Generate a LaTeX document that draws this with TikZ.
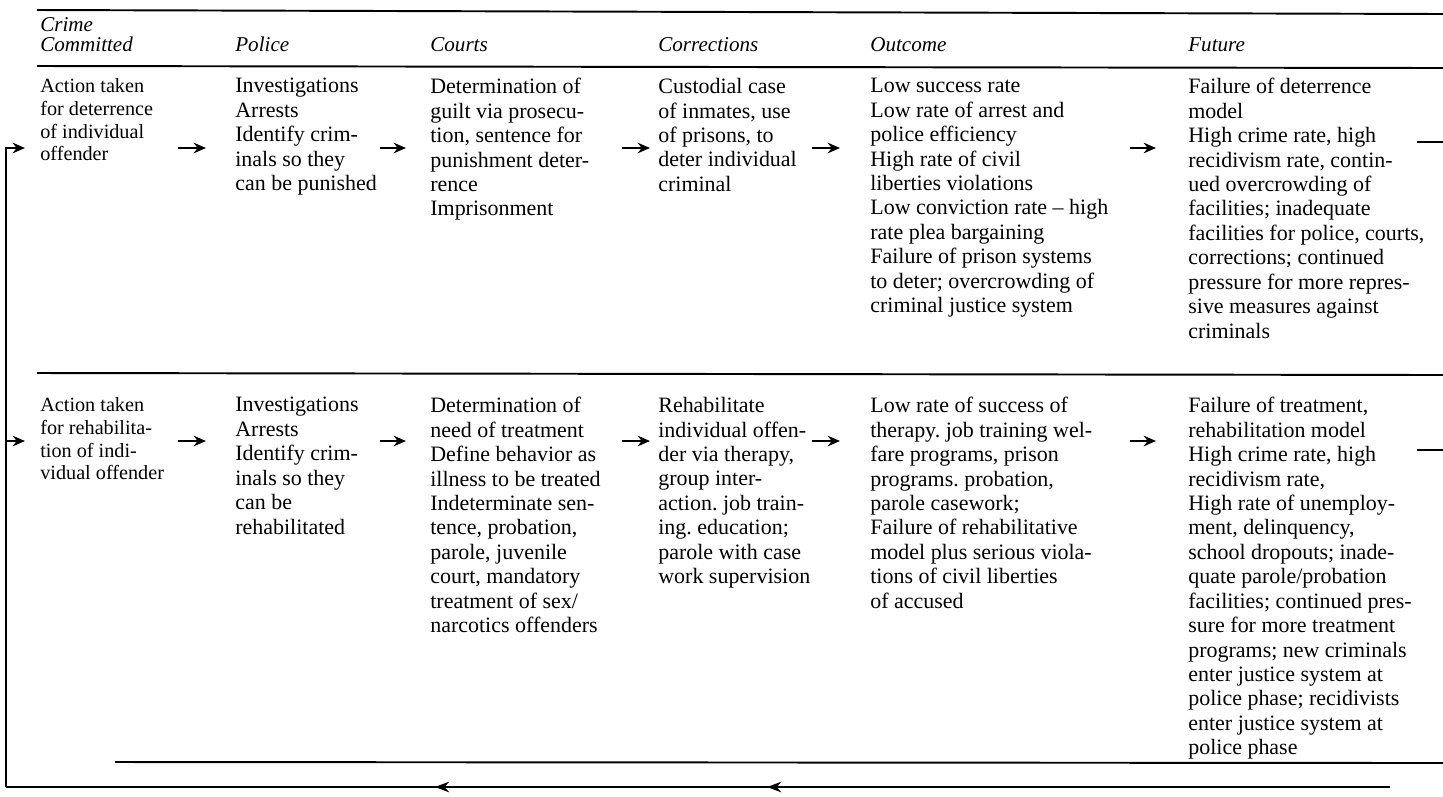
\documentclass[tikz,border=0pt]{standalone}
\usepackage{fontspec}
\setmainfont{Liberation Serif}
\usetikzlibrary{arrows.meta,decorations.markings}
\frenchspacing

\tikzset{
  cell/.style={anchor=north west, align=left, inner sep=0pt,
    font=\fontsize{12.5}{13.9}\selectfont},
  side/.style={cell, font=\fontsize{11.5}{13}\selectfont},
  head/.style={anchor=south west, align=left, inner sep=0pt,
    font=\fontsize{12}{11.5}\selectfont\itshape},
  rule/.style={line width=1.1pt},
  flow/.style={line width=1.5pt, -{Stealth[length=7pt,width=6pt]}},
  back/.style={line width=1.6pt},
}

\begin{document}
\begin{tikzpicture}[x=0.02cm, y=-0.02cm]
		\useasboundingbox (0,0) rectangle (1443,796);

		% Rules of the table
		\draw[rule] (37,10) -- (1443,14);
		\draw[rule] (37,66) -- (1443,68);
		\draw[rule] (37,373) -- (1443,375);
		\draw[rule] (115,762) -- (1443,763);

		% Column heads
		\node[head] (hd0) at (40,52) {Crime\\Committed};
		\node[head] (hd1) at (235,52) {Police};
		\node[head] (hd2) at (430,52) {Courts};
		\node[head] (hd3) at (658,52) {Corrections};
		\node[head] (hd4) at (870,52) {Outcome};
		\node[head] (hd5) at (1188,52) {Future};

		% Heights of the arrows in each row
		\coordinate (r1) at (0,148);
		\coordinate (r2) at (0,441);

		% Deterrence row
		\node[side] (a0) at (40,78) {Action taken\\for deterrence\\of individual\\offender};
		\node[cell] (a1) at (235,78) {Investigations\\Arrests\\Identify crim-\\inals so they\\can be punished};
		\node[cell] (a2) at (430,78) {Determination of\\guilt via prosecu-\\tion, sentence for\\punishment deter-\\rence\\Imprisonment};
		\node[cell] (a3) at (658,78) {Custodial case\\of inmates, use\\of prisons, to\\deter individual\\criminal};
		\node[cell] (a4) at (870,78) {Low success rate\\Low rate of arrest and\\police efficiency\\High rate of civil\\liberties violations\\Low conviction rate -- high\\rate plea bargaining\\Failure of prison systems\\to deter; overcrowding of\\criminal justice system};
		\node[cell] (a5) at (1188,78) {Failure of deterrence\\model\\High crime rate, high\\recidivism rate, contin-\\ued overcrowding of\\facilities; inadequate\\facilities for police, courts,\\corrections; continued\\pressure for more repres-\\sive measures against\\criminals};

		\draw[flow, shorten <=2.76cm, shorten >=0.58cm] (a0.west |- r1) -- (a1.west |- r1);
		\draw[flow, shorten <=2.90cm, shorten >=0.48cm] (a1.west |- r1) -- (a2.west |- r1);
		\draw[flow, shorten <=3.84cm, shorten >=0.16cm] (a2.west |- r1) -- (a3.west |- r1);
		\draw[flow, shorten <=3.08cm, shorten >=0.60cm] (a3.west |- r1) -- (a4.west |- r1);
		\draw[flow, shorten <=5.20cm, shorten >=0.64cm] (a4.west |- r1) -- (a5.west |- r1);
		\coordinate (o1a) at (1417,142);
		\coordinate (o1) at (1443,142);
		\draw[rule] (o1a) -- (o1);

		% Rehabilitation row
		\node[side] (b0) at (40,397) {Action taken\\for rehabilita-\\tion of indi-\\vidual offender};
		\node[cell] (b1) at (235,397) {Investigations\\Arrests\\Identify crim-\\inals so they\\can be\\rehabilitated};
		\node[cell] (b2) at (430,397) {Determination of\\need of treatment\\Define behavior as\\illness to be treated\\Indeterminate sen-\\tence, probation,\\parole, juvenile\\court, mandatory\\treatment of sex/\\narcotics offenders};
		\node[cell] (b3) at (658,397) {Rehabilitate\\individual offen-\\der via therapy,\\group inter-\\action. job train-\\ing. education;\\parole with case\\work supervision};
		\node[cell] (b4) at (870,397) {Low rate of success of\\therapy. job training wel-\\fare programs, prison\\programs. probation,\\parole casework;\\Failure of rehabilitative\\model plus serious viola-\\tions of civil liberties\\of accused};
		\node[cell] (b5) at (1188,397) {Failure of treatment,\\rehabilitation model\\High crime rate, high\\recidivism rate,\\High rate of unemploy-\\ment, delinquency,\\school dropouts; inade-\\quate parole/probation\\facilities; continued pres-\\sure for more treatment\\programs; new criminals\\enter justice system at\\police phase; recidivists\\enter justice system at\\police phase};

		\draw[flow, shorten <=2.76cm, shorten >=0.58cm] (b0.west |- r2) -- (b1.west |- r2);
		\draw[flow, shorten <=2.90cm, shorten >=0.48cm] (b1.west |- r2) -- (b2.west |- r2);
		\draw[flow, shorten <=3.84cm, shorten >=0.16cm] (b2.west |- r2) -- (b3.west |- r2);
		\draw[flow, shorten <=3.08cm, shorten >=0.60cm] (b3.west |- r2) -- (b4.west |- r2);
		\draw[flow, shorten <=5.20cm, shorten >=0.64cm] (b4.west |- r2) -- (b5.west |- r2);
		\coordinate (o2a) at (1417,450);
		\coordinate (o2) at (1443,450);
		\draw[rule] (o2a) -- (o2);

		% Feedback line back to the start
		\coordinate (fb) at (6,787);
		\coordinate (fe) at (1390,787);
		\draw[back, postaction={decorate}, decoration={markings,
			mark=at position 0.45 with {\arrow{Stealth[length=8pt,width=6pt]}},
			mark=at position 0.69 with {\arrow{Stealth[length=8pt,width=6pt]}}}] (fe) -- (fb);
		\draw[back, -{Stealth[length=7pt,width=6pt]}, shorten >=0.3cm] (fb) -- (fb |- r1) -- (a0.west |- r1);
		\draw[back, -{Stealth[length=7pt,width=6pt]}, shorten >=0.3cm] (fb |- r2) -- (b0.west |- r2);
	\end{tikzpicture}
\end{document}
